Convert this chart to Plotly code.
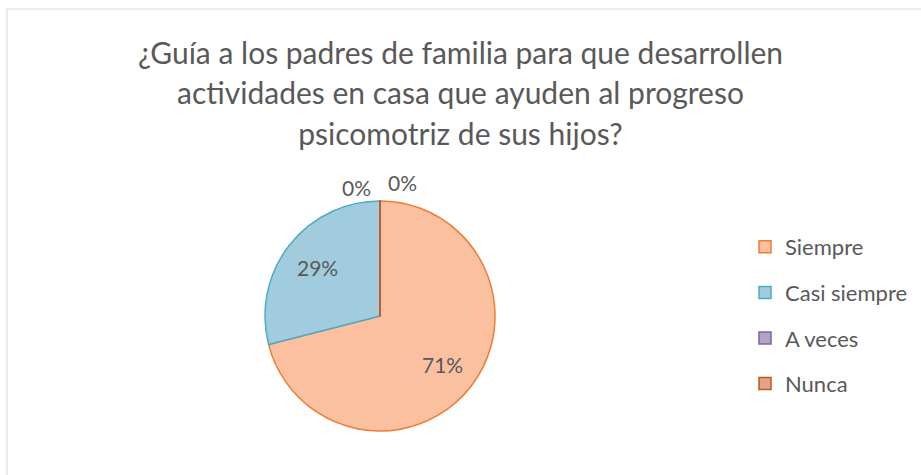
import math
import plotly.graph_objects as go

categories = ["Siempre", "Casi siempre", "A veces", "Nunca"]
values = [71, 29, 0, 0]
fill_colors = ["#FAC0A0", "#A0CCDD", "#B3A2C7", "#E3A28C"]
line_colors = ["#ED7D31", "#4BACC6", "#8064A2", "#C55A11"]
title_lines = [
    "¿Guía a los padres de familia para que desarrollen",
    "actividades en casa que ayuden al progreso",
    "psicomotriz de sus hijos?",
]

W, H = 921, 475
FONT = "Lato"
GRAY = "#595959"

cx, cy, r = 380, 316, 115

fig = go.Figure()
fig.add_trace(go.Pie(
    labels=categories,
    values=values,
    sort=False,
    direction="clockwise",
    rotation=0,
    marker=dict(colors=fill_colors, line=dict(color=line_colors, width=1.5)),
    textinfo="none",
    showlegend=False,
    domain=dict(x=[(cx - r) / W, (cx + r) / W], y=[(H - cy - r) / H, (H - cy + r) / H]),
    hoverinfo="label+percent",
))

# data labels placed from the slice angles (Excel "best fit" style)
total = sum(values)
cum = 0.0
annotations = []
zero_side = -1
for v in values:
    frac = v / total
    mid = (cum + frac / 2) * 2 * math.pi
    pct = f"{round(100 * frac)}%"
    if v > 0:
        d = 0.69 * r
        px = cx + d * math.sin(mid)
        py = cy - d * math.cos(mid)
    else:
        d = r + 16
        px = cx + d * math.sin(mid) + zero_side * 23
        py = cy - d * math.cos(mid) + (2 if zero_side < 0 else -3)
        zero_side = -zero_side
    annotations.append(dict(x=px / W, y=1 - py / H, xref="paper", yref="paper",
                            text=pct, showarrow=False, xanchor="center", yanchor="middle",
                            font=dict(family=FONT, size=21, color=GRAY)))
    cum += frac

for cat, fc, lc in zip(categories, fill_colors, line_colors):
    fig.add_trace(go.Scatter(
        x=[None], y=[None], mode="markers", name=cat, legendgroup=cat,
        marker=dict(symbol="square", size=12, color=fc, line=dict(color=lc, width=1.5)),
    ))

title_html = "<br>".join(f'<span style="font-size:30px">{t}</span>' for t in title_lines)

fig.update_layout(
    width=W, height=H,
    margin=dict(l=0, r=0, t=0, b=0),
    paper_bgcolor="white", plot_bgcolor="white",
    title=dict(text=title_html, x=0.5, xanchor="center", y=1 - 64 / H, yanchor="middle",
               font=dict(family=FONT, size=31, color=GRAY)),
    xaxis=dict(visible=False), yaxis=dict(visible=False),
    legend=dict(x=745 / W, y=1 - 226 / H, xanchor="left", yanchor="top",
                font=dict(family=FONT, size=22, color=GRAY),
                tracegroupgap=14, bgcolor="rgba(0,0,0,0)"),
    annotations=annotations,
    shapes=[dict(type="rect", xref="paper", yref="paper", x0=7 / W, x1=1.02, y0=-0.02, y1=1 - 9 / H,
                 line=dict(color="#D9D9D9", width=1), fillcolor="rgba(0,0,0,0)", layer="below")],
)

fig.write_html("out.html", config={"displayModeBar": False},
               post_script="document.body.style.margin='0';")
